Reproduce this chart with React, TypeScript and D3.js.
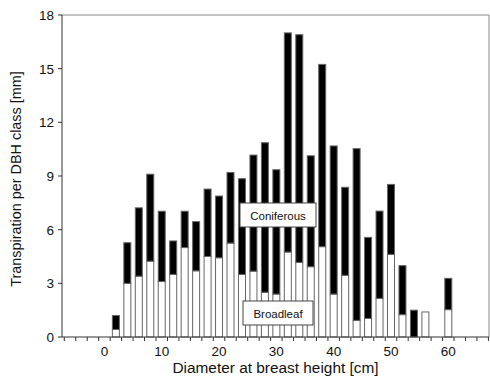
import React from "react";
import * as d3 from "d3";

const diameters = [2, 4, 6, 8, 10, 12, 14, 16, 18, 20, 22, 24, 26, 28, 30, 32, 34, 36, 38, 40, 42, 44, 46, 48, 50, 52, 54, 56, 58, 60];
const broadleaf = [0.42, 3.0, 3.4, 4.24, 3.1, 3.5, 5.0, 3.7, 4.5, 4.43, 5.25, 3.5, 3.68, 2.5, 2.4, 4.75, 4.17, 3.93, 5.05, 2.4, 3.45, 0.93, 1.04, 2.16, 4.62, 1.25, 0, 1.4, 0, 1.53];
const coniferous = [0.78, 2.27, 3.82, 4.86, 3.93, 1.87, 2.03, 2.75, 3.77, 3.45, 3.95, 5.35, 6.49, 8.36, 6.95, 12.25, 12.73, 6.2, 10.19, 8.28, 4.92, 9.6, 4.53, 4.88, 3.91, 2.74, 1.5, 0, 0, 1.75];
const yTicks = [0, 3, 6, 9, 12, 15, 18];
const xLabels = [0, 10, 20, 30, 40, 50, 60];
const xMinorTicks = d3.range(-7, 68, 2);

const W = 490, H = 377;
const L = 62, R = 489, T = 15, B = 337;
const FONT = "'Liberation Sans', Arial, Helvetica, sans-serif";

export default function App() {
  const x = d3.scaleLinear().domain([-7.4, 67.1]).range([L, R]);
  const y = d3.scaleLinear().domain([0, 18]).range([B, T]);
  const rows = diameters.map((d, i) => ({ d, broadleaf: broadleaf[i], coniferous: coniferous[i] }));
  const stack = d3.stack<any>().keys(["broadleaf", "coniferous"])(rows);
  const bw = 7;
  const axisColor = "#333";
  const frameColor = "#888";
  return (
    <svg width={W} height={H} style={{ position: "absolute", left: 0, top: 0, background: "#fff" }} fontFamily={FONT}>
      {/* frame */}
      <line x1={L} x2={R} y1={T} y2={T} stroke={frameColor} strokeWidth={1} />
      <line x1={R} x2={R} y1={T} y2={B} stroke={frameColor} strokeWidth={1} />
      {/* bars */}
      {stack.map((layer, li) => (
        <g key={li}>
          {layer.map((seg, i) => {
            const h = y(seg[0]) - y(seg[1]);
            if (h <= 0) return null;
            return (
              <rect
                key={i}
                x={x(diameters[i]) - bw / 2}
                y={y(seg[1])}
                width={bw}
                height={h}
                fill={li === 0 ? "#fff" : "#000"}
                stroke="#666"
                strokeWidth={1}
              />
            );
          })}
        </g>
      ))}
      {/* axes */}
      <line x1={L} x2={L} y1={T} y2={B} stroke={axisColor} strokeWidth={1} />
      <line x1={L} x2={R} y1={B} y2={B} stroke={axisColor} strokeWidth={1} />
      {yTicks.map((t) => (
        <g key={t}>
          <line x1={L - 4} x2={L} y1={y(t)} y2={y(t)} stroke={axisColor} />
          <text x={L - 8} y={y(t)} dy="0.36em" textAnchor="end" fontSize={13.5} fill="#111">{t}</text>
        </g>
      ))}
      {xMinorTicks.map((t) => (
        <line key={t} x1={x(t)} x2={x(t)} y1={B} y2={B + 4} stroke={axisColor} />
      ))}
      {xLabels.map((t) => (
        <text key={t} x={x(t)} y={356} textAnchor="middle" fontSize={13.5} fill="#111">{t}</text>
      ))}
      <text x={(L + R) / 2} y={373} textAnchor="middle" fontSize={15.4} fill="#111">Diameter at breast height [cm]</text>
      <text transform={`translate(21,${(T + B) / 2 + 3}) rotate(-90)`} textAnchor="middle" fontSize={14.4} fill="#111">Transpiration per DBH class [mm]</text>
      {/* labels */}
      <rect x={240} y={203} width={76} height={24} fill="#fff" stroke="#444" />
      <text x={278} y={219.5} textAnchor="middle" fontSize={11.5} fill="#111">Coniferous</text>
      <rect x={243} y={301} width={70} height={24} fill="#fff" stroke="#444" />
      <text x={278} y={317.5} textAnchor="middle" fontSize={11.5} fill="#111">Broadleaf</text>
    </svg>
  );
}
